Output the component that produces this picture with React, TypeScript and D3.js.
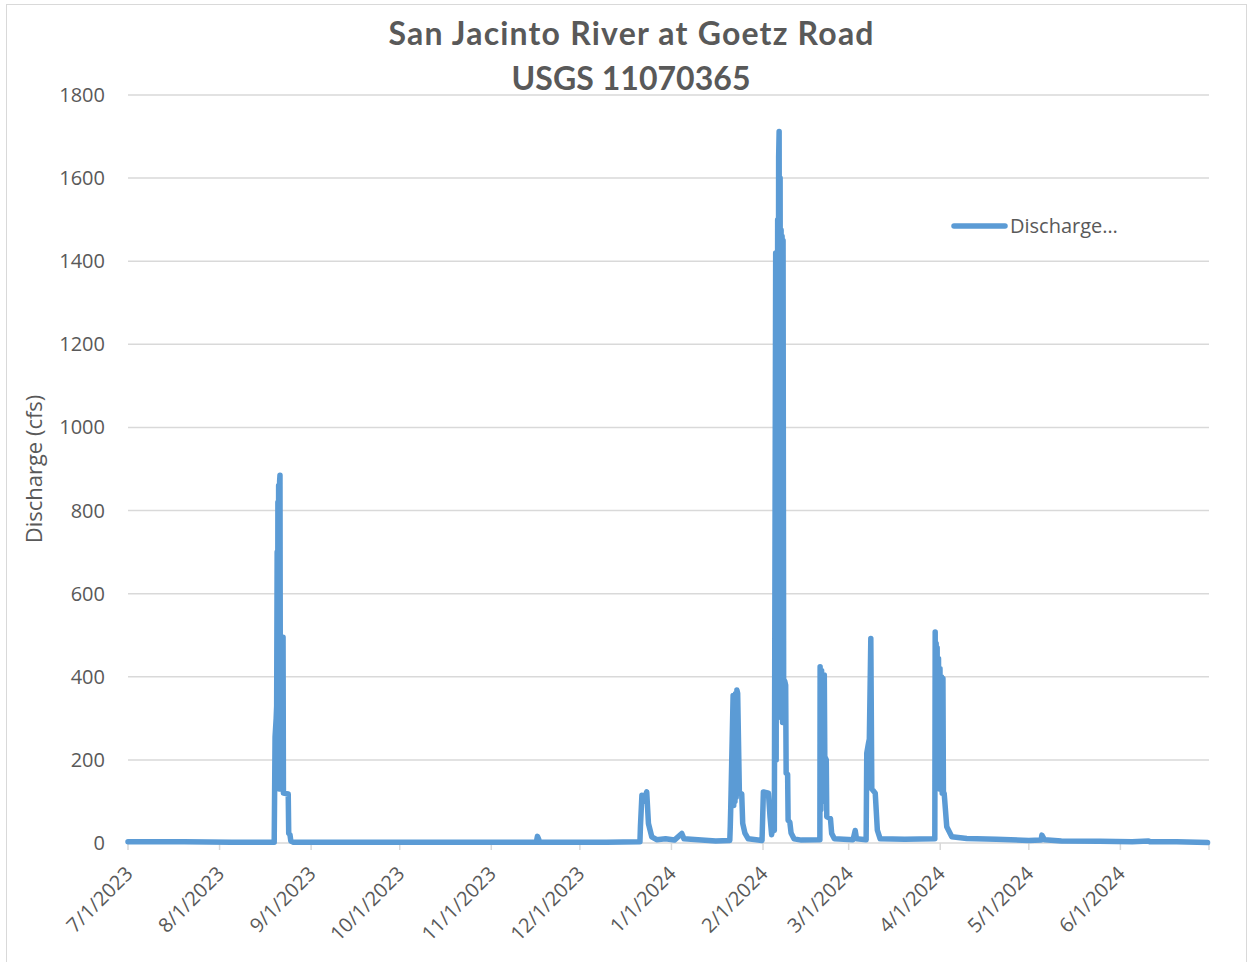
import React from 'react'
import * as d3 from 'd3'

const obsTimes = [
    // summer baseflow + Hilary
    '2023-07-01 00', '2023-07-20 00', '2023-08-05 00', '2023-08-19 12', '2023-08-19 19',
    '2023-08-20 04', '2023-08-20 08', '2023-08-20 12', '2023-08-20 15', '2023-08-20 18',
    '2023-08-20 21', '2023-08-21 00', '2023-08-21 04', '2023-08-21 08', '2023-08-21 11',
    '2023-08-21 15', '2023-08-21 19', '2023-08-21 23', '2023-08-22 03', '2023-08-22 08',
    '2023-08-22 12', '2023-08-22 15', '2023-08-24 06', '2023-08-24 10', '2023-08-24 20',
    '2023-08-25 03', '2023-08-26 00', '2023-09-20 00', '2023-10-20 00',
    // fall / early winter
    '2023-11-16 06', '2023-11-16 15', '2023-11-17 00', '2023-11-17 08', '2023-12-10 00',
    '2023-12-21 08', '2023-12-21 12', '2023-12-22 00', '2023-12-22 12', '2023-12-23 15',
    '2023-12-24 05', '2023-12-25 08', '2023-12-27 00', '2023-12-30 00', '2024-01-02 00',
    '2024-01-04 12', '2024-01-05 06', '2024-01-10 00', '2024-01-16 00',
    // late January
    '2024-01-20 18', '2024-01-20 22', '2024-01-21 02', '2024-01-21 21', '2024-01-22 02',
    '2024-01-22 07', '2024-01-22 12', '2024-01-22 17', '2024-01-22 22', '2024-01-23 04',
    '2024-01-23 10', '2024-01-24 00', '2024-01-24 19', '2024-01-25 03', '2024-01-25 21',
    '2024-01-27 00', '2024-01-31 16',
    // early February atmospheric river
    '2024-02-01 03', '2024-02-02 20', '2024-02-03 09', '2024-02-03 22', '2024-02-04 10',
    '2024-02-04 20', '2024-02-05 07', '2024-02-05 11', '2024-02-05 15', '2024-02-05 19',
    '2024-02-05 23', '2024-02-06 03', '2024-02-06 07', '2024-02-06 11', '2024-02-06 15',
    '2024-02-06 19', '2024-02-06 23', '2024-02-07 03', '2024-02-07 07', '2024-02-07 11',
    '2024-02-07 15', '2024-02-07 19', '2024-02-08 00', '2024-02-08 08', '2024-02-08 16',
    '2024-02-08 20', '2024-02-09 08', '2024-02-09 12', '2024-02-10 02', '2024-02-10 12',
    '2024-02-11 12', '2024-02-14 00',
    // late February
    '2024-02-20 06', '2024-02-20 08', '2024-02-20 14', '2024-02-20 20', '2024-02-21 02',
    '2024-02-21 08', '2024-02-21 18', '2024-02-21 22', '2024-02-22 10', '2024-02-22 14',
    '2024-02-23 20', '2024-02-24 06', '2024-02-25 04',
    // March
    '2024-03-02 12', '2024-03-03 05', '2024-03-03 16', '2024-03-06 22', '2024-03-07 03',
    '2024-03-07 17', '2024-03-08 00', '2024-03-08 12', '2024-03-08 20', '2024-03-09 05',
    '2024-03-10 00', '2024-03-10 17', '2024-03-11 16', '2024-03-20 00',
    // end of March
    '2024-03-30 04', '2024-03-30 07', '2024-03-30 11', '2024-03-30 15', '2024-03-30 19',
    '2024-03-30 23', '2024-03-31 04', '2024-03-31 10', '2024-03-31 16', '2024-03-31 22',
    '2024-04-01 04', '2024-04-01 10', '2024-04-01 16', '2024-04-01 22', '2024-04-02 02',
    '2024-04-02 08', '2024-04-03 05', '2024-04-04 22',
    // spring recession
    '2024-04-10 00', '2024-04-20 00', '2024-05-01 00', '2024-05-05 04', '2024-05-05 10',
    '2024-05-06 06', '2024-05-12 00', '2024-05-25 00', '2024-06-05 00', '2024-06-10 12',
    '2024-06-11 00', '2024-06-20 00', '2024-06-30 12',
]

const dischargeCfs = [
    3, 3, 2, 2, 255,
    300, 330, 700, 150, 820,
    200, 860, 130, 870, 885,
    140, 480, 130, 490, 140,
    495, 120, 118, 23, 20,
    5, 2, 2, 2,
    2, 16, 10, 2, 2,
    3, 40, 115, 100, 123,
    47, 15, 8, 10, 7,
    23, 10, 8, 5,
    6, 40, 87, 355, 90,
    350, 100, 360, 110, 368,
    360, 120, 118, 47, 24,
    10, 6,
    123, 120, 63, 20, 50,
    30, 1420, 200, 1380, 400,
    1500, 700, 1650, 1712, 900,
    1600, 600, 1475, 300, 1460,
    290, 1450, 290, 390, 380,
    168, 165, 55, 50, 24,
    10, 7,
    8, 424, 80, 415, 100,
    404, 404, 208, 200, 63,
    59, 23, 10,
    8, 30, 10, 8, 216,
    240, 250, 492, 130, 127,
    120, 31, 10, 9,
    10, 508, 150, 480, 130,
    470, 140, 444, 130, 420,
    130, 400, 120, 396, 120,
    120, 39, 15,
    11, 9, 6, 7, 19,
    8, 5, 4, 3, 5,
    3, 3, 1,
]

const yTicks = [0, 200, 400, 600, 800, 1000, 1200, 1400, 1600, 1800]
const titleLines = ['San Jacinto River at Goetz Road', 'USGS 11070365']
const titleWidths = [485, 239]
const seriesName = 'Discharge…'

const width = 1253
const height = 962
const plot = { left: 128, right: 1209, top: 95, bottom: 843 }
const blue = '#5B9BD5'
const grey = '#595959'
const grid = '#d9d9d9'
const font = '"Open Sans", "Noto Sans", sans-serif'

const parseTime = d3.timeParse('%Y-%m-%d %H')
const fmtTick = d3.timeFormat('%-m/%-d/%Y')

export default function App() {
    const data = obsTimes.map((t, i) => ({ t: parseTime(t) as Date, q: dischargeCfs[i] }))

    const x = d3
        .scaleTime()
        .domain([new Date(2023, 6, 1), new Date(2024, 6, 1)])
        .range([plot.left, plot.right])

    const y = d3.scaleLinear().domain([0, 1800]).range([plot.bottom, plot.top])

    const months = d3.timeMonth.range(new Date(2023, 6, 1), new Date(2024, 6, 2))

    const line = d3
        .line<{ t: Date; q: number }>()
        .x(d => x(d.t))
        .y(d => y(d.q))

    return (
        <svg
            width={width}
            height={height}
            style={{ position: 'absolute', left: 0, top: 0, background: '#fff' }}
            fontFamily={font}
        >
            <rect x={6.5} y={4.5} width={1240} height={970} fill="#fff" stroke={grid} />

            {titleLines.map((s, i) => (
                <text
                    key={s}
                    x={631}
                    y={45 + i * 45}
                    textAnchor="middle"
                    fontFamily="Lato, sans-serif"
                    fontSize={32}
                    fontWeight="bold"
                    fill={grey}
                    textLength={titleWidths[i]}
                    lengthAdjust="spacing"
                >
                    {s}
                </text>
            ))}

            {yTicks.map(v => (
                <g key={v}>
                    <line x1={plot.left} x2={plot.right} y1={y(v)} y2={y(v)} stroke={grid} strokeWidth={1.5} />
                    <text x={105} y={y(v)} dy="0.35em" textAnchor="end" fontSize={20} fill={grey}>
                        {v}
                    </text>
                </g>
            ))}

            {months.map((m, i) => (
                <g key={+m}>
                    <line x1={x(m)} x2={x(m)} y1={plot.bottom} y2={plot.bottom + 7} stroke={grid} strokeWidth={1.5} />
                    {i < 12 && (
                        <text
                            transform={`translate(${x(m) + 6}, ${plot.bottom + 32}) rotate(-45)`}
                            textAnchor="end"
                            fontSize={20}
                            fill={grey}
                        >
                            {fmtTick(m)}
                        </text>
                    )}
                </g>
            ))}

            <text
                transform={`translate(42, ${(plot.top + plot.bottom) / 2}) rotate(-90)`}
                textAnchor="middle"
                fontSize={22}
                fill={grey}
            >
                Discharge (cfs)
            </text>

            <path
                d={line(data) ?? ''}
                fill="none"
                stroke={blue}
                strokeWidth={5.5}
                strokeLinejoin="round"
                strokeLinecap="round"
            />

            <line x1={954} x2={1005} y1={226} y2={226} stroke={blue} strokeWidth={5.5} strokeLinecap="round" />
            <text x={1010} y={226} dy="0.35em" fontSize={20} fill={grey}>
                {seriesName}
            </text>
        </svg>
    )
}
